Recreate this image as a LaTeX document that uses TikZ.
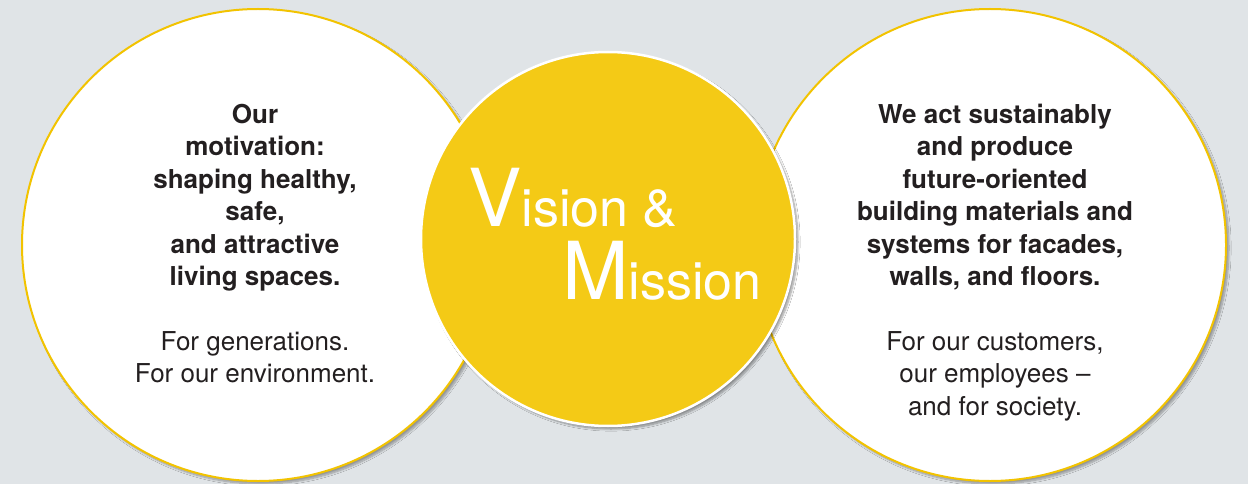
\documentclass[tikz,border=0pt]{standalone}
\usepackage{fontspec}
\setmainfont{TeX Gyre Heros}
\usetikzlibrary{shadows.blur}
\definecolor{VMBackground}{HTML}{E0E4E7}
\definecolor{VMYellow}{HTML}{F4CA16}
\definecolor{VMRing}{HTML}{F2C300}
\definecolor{VMText}{HTML}{231F20}
\tikzset{
    % Circle styles
    sidecircle/.style={
        circle,
        draw=VMRing,
        fill=white,
        line width=2pt,
        minimum size=472pt,
        inner sep=0pt,
        blur shadow={shadow xshift=3pt, shadow yshift=-3pt, shadow opacity=35, shadow blur steps=8}
    },
    centercircle/.style={
        circle,
        draw=white,
        fill=VMYellow,
        line width=2.5pt,
        minimum size=374pt,
        inner sep=0pt,
        blur shadow={shadow xshift=3pt, shadow yshift=-3pt, shadow opacity=40, shadow blur steps=8}
    },
    % Text styles
    bodytext/.style={
        text=VMText,
        align=center,
        inner sep=0pt,
        font=\fontsize{26}{32.4}\selectfont
    },
    titletext/.style={
        text=white,
        inner sep=0pt,
        anchor=base west
    }
}

\begin{document}
\begin{tikzpicture}[x=1pt, y=-1pt]
    % Canvas
    \useasboundingbox (0,0) rectangle (1248,484);
    \fill[VMBackground] (0,0) rectangle (1248,484);
    \clip (0,0) rectangle (1248,484);

    % Circles
    \node[sidecircle] (motivation) at (258,245) {};
    \node[sidecircle] (action) at (990,245) {};
    \node[centercircle] (core) at (608,239) {};

    % Title
    \node[titletext] (vision) at (468,226) {\fontsize{80}{80}\selectfont V\fontsize{52}{52}\selectfont ision \&};
    \node[titletext] (mission) at (562,299) {\fontsize{80}{80}\selectfont M\fontsize{52}{52}\selectfont ission};

    % Texts
    \node[bodytext, anchor=north] (motivtext) at (255,104) {
        \textbf{Our}\\
        \textbf{motivation:}\\
        \textbf{shaping healthy,}\\
        \textbf{safe,}\\
        \textbf{and attractive}\\
        \textbf{living spaces.}\\[32.4pt]
        For generations.\\
        For our environment.
    };
    \node[bodytext, anchor=north] (actiontext) at (995,104) {
        \textbf{We act sustainably}\\
        \textbf{and produce}\\
        \textbf{future-oriented}\\
        \textbf{building materials and}\\
        \textbf{systems for facades,}\\
        \textbf{walls, and floors.}\\[32.4pt]
        For our customers,\\
        our employees --\\
        and for society.
    };
\end{tikzpicture}
\end{document}
